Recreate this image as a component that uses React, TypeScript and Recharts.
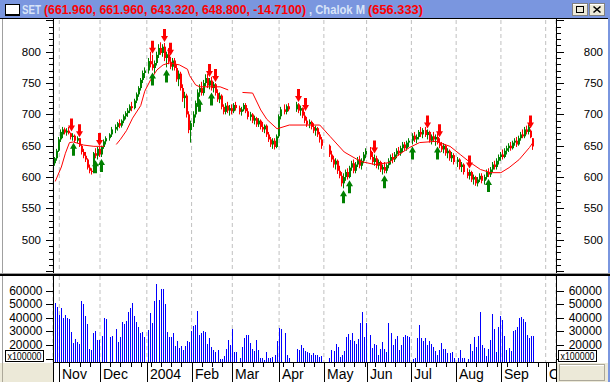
import React from "react";
import { ComposedChart, Bar, Line, Scatter, XAxis, YAxis, CartesianGrid } from "recharts";

type Candle4 = [number, number, number, number] | null; // open, high, low, close

// one slot per weekday, slot 1 = Thu 30 Oct 2003; null = market closed
const oct03: Candle4[] = [[622, 632, 618, 630], [630, 645, 626, 642]];
const nov03: Candle4[] = [
  [642, 664, 640, 660], [660, 676, 656, 672], [668, 680, 662, 676], [676, 679, 668, 671], [671, 678, 666, 674],
  [674, 680, 668, 670], [670, 671, 660, 664], [664, 670, 658, 666], [666, 668, 655, 658], [658, 665, 654, 662],
  [662, 662, 648, 650], [650, 652, 636, 640], [640, 645, 630, 634], [634, 640, 624, 628], [628, 630, 612, 615],
  [615, 620, 606, 610], [610, 614, 604, 608], [608, 640, 606, 638], [638, 646, 630, 634], [634, 648, 628, 645],
];
const dec03: Candle4[] = [
  [645, 648, 632, 636], [636, 650, 632, 648], [648, 660, 645, 657], [657, 665, 652, 662], null,
  [662, 670, 658, 668], [668, 680, 664, 676], null, [676, 684, 670, 680], [680, 688, 674, 686],
  [686, 692, 678, 682], [682, 692, 679, 690], [690, 700, 686, 697], [697, 705, 692, 702], [702, 710, 696, 706],
  [706, 716, 702, 713], [713, 720, 705, 710], [710, 725, 708, 722], [722, 735, 718, 732], [732, 745, 728, 742],
  [742, 758, 738, 755], [755, 770, 750, 766], [766, 775, 758, 770],
];
const jan04: Candle4[] = [
  null, [770, 790, 765, 785], [785, 800, 775, 780], [780, 795, 770, 774], [774, 786, 765, 782],
  [782, 800, 778, 795], [795, 812, 790, 806], [806, 815, 795, 798], [798, 812, 792, 808], [808, 814, 785, 790],
  [790, 800, 775, 796], [796, 806, 780, 784], [784, 792, 772, 776], [776, 790, 770, 786], [786, 790, 770, 774],
  [774, 780, 752, 756], [756, 770, 745, 765], [765, 768, 738, 742], [742, 748, 720, 726], [726, 736, 710, 730],
  [730, 733, 695, 700], [700, 705, 670, 675],
];
const feb04: Candle4[] = [
  [675, 690, 655, 686], [686, 705, 680, 700], [700, 722, 695, 718], [718, 740, 712, 735], [735, 748, 728, 742],
  [742, 752, 730, 734], [734, 755, 730, 750], [750, 764, 745, 758], [758, 765, 742, 746], [746, 758, 740, 754],
  [754, 760, 738, 742], [742, 752, 735, 748], [748, 750, 730, 734], [734, 740, 720, 724], [724, 735, 718, 730],
  [730, 732, 708, 712], [712, 716, 700, 704], [704, 718, 700, 714], [714, 720, 702, 706], [706, 715, 698, 710],
];
const mar04: Candle4[] = [
  [710, 716, 700, 705], [705, 718, 702, 715], [715, 720, 706, 710], null, [710, 714, 700, 704],
  [704, 712, 698, 708], [708, 718, 705, 715], [715, 718, 702, 705], [705, 710, 692, 696], [696, 704, 690, 700],
  [700, 702, 686, 690], [690, 698, 684, 694], [694, 696, 680, 684], [684, 694, 680, 690], [690, 692, 676, 680],
  [680, 688, 672, 676], [676, 684, 670, 682], [682, 684, 664, 668], [668, 672, 656, 660], [660, 664, 648, 652],
  [652, 662, 645, 658], [658, 662, 644, 648], [648, 668, 646, 665],
];
const apr04: Candle4[] = [
  [665, 700, 662, 697], [697, 712, 692, 708], null, [708, 716, 700, 704], [704, 716, 700, 713],
  [713, 718, 705, 708], null, null, null, [708, 720, 704, 716],
  [716, 718, 702, 706], [706, 714, 698, 710], [710, 711, 694, 698], [698, 704, 686, 690], [690, 696, 680, 684],
  [684, 692, 678, 688], [688, 690, 676, 680], [680, 686, 670, 674], [674, 682, 666, 678], [678, 680, 664, 668],
  [668, 672, 655, 660], [660, 664, 645, 650],
];
const may04: Candle4[] = [
  null, null, null, [650, 652, 632, 636], [636, 642, 624, 628],
  [628, 634, 615, 620], [620, 630, 612, 626], [626, 628, 605, 610], [610, 618, 598, 602], [602, 608, 585, 590],
  [590, 606, 582, 600], [600, 612, 594, 608], [608, 614, 596, 600], [600, 618, 598, 615], [615, 626, 610, 622],
  [622, 628, 606, 610], [610, 624, 606, 620], [620, 632, 616, 628], [628, 634, 614, 618], [618, 630, 612, 626],
  [626, 640, 622, 636],
];
const jun04: Candle4[] = [
  [636, 646, 630, 642], null, [642, 648, 628, 632], [632, 640, 620, 624], [624, 636, 618, 630],
  [630, 634, 614, 618], [618, 628, 612, 624], [624, 626, 608, 612], [612, 620, 604, 616], [616, 624, 606, 610],
  [610, 622, 606, 619], [619, 630, 614, 626], [626, 636, 620, 632], [632, 638, 622, 628], [628, 640, 624, 636],
  [636, 646, 630, 642], [642, 648, 634, 638], [638, 650, 634, 646], [646, 656, 640, 652], [652, 656, 642, 646],
  [646, 658, 642, 655], [655, 662, 648, 658],
];
const jul04: Candle4[] = [
  null, [658, 670, 652, 666], [666, 672, 656, 660], [660, 668, 654, 664], [664, 675, 660, 672],
  [672, 680, 664, 668], [668, 678, 662, 675], [675, 680, 664, 667], [667, 676, 660, 672], [672, 674, 655, 658],
  [658, 668, 652, 665], [665, 672, 656, 660], [660, 668, 650, 664], [664, 670, 652, 655], [655, 662, 646, 650],
  [650, 656, 640, 644], [644, 654, 638, 650], [650, 652, 634, 638], [638, 646, 630, 642], [642, 644, 626, 630],
  [630, 640, 624, 635], [635, 638, 620, 624],
];
const aug04: Candle4[] = [
  null, [624, 632, 616, 628], [628, 630, 612, 616], [616, 624, 608, 620], [620, 622, 604, 608],
  null, [608, 614, 598, 602], [602, 612, 596, 608], [608, 610, 592, 596], [596, 604, 588, 600],
  [600, 602, 586, 590], [590, 600, 585, 596], [596, 606, 592, 602], [602, 606, 590, 594], [594, 604, 588, 600],
  [600, 612, 596, 608], [608, 614, 600, 604], [604, 616, 600, 612], [612, 624, 608, 620], [620, 626, 612, 616],
  [616, 630, 612, 626], [626, 636, 620, 632],
];
const sep04: Candle4[] = [
  [632, 640, 626, 636], [636, 644, 628, 632], [632, 646, 630, 642], [642, 650, 636, 646], [646, 654, 640, 650],
  [650, 656, 642, 646], [646, 658, 644, 655], [655, 662, 650, 658], [658, 664, 648, 652], [652, 666, 650, 662],
  [662, 672, 658, 668], [668, 676, 662, 665], [665, 680, 662, 676], [676, 682, 668, 672], [672, 684, 668, 680],
  [674, 676, 662, 663.51], [661.96, 661.96, 643.32, 648.8],
];

// volume (x100000), same slots
const volOct03 = [51000, 47800];
const volNov03 = [42000, 47000, 39700, 42000, 39700, 39000, 29800, 21700, 24400, 22400, 20700, 52400, 50000, 41600, 35500, 17000, 16300, 28600, 30000, 24000];
const volDec03 = [24000, 26600, 39700, 39200, null, 26100, 26600, null, 31500, 22400, 26100, 36700, 35500, 37700, 44500, 47000, 50700, 41400, 37200, 33000, 28600, 29800, 26100];
const volJan04 = [null, 31000, 43800, 36400, 52400, 64900, 53200, 61200, 61200, 50200, 29800, 26100, 26100, 28600, 19300, 23200, 18000, 19300, 16300, 19300, 23000, 22000];
const volFeb04 = [30300, 34000, 34700, 45000, 27400, 28600, 30300, 29300, 20700, 24900, 18300, 16300, 15100, 16300, 9500, 9500, 11900, 17000, 23600, 20000];
const volMar04 = [31500, 15000, 15000, null, 10700, 18800, 24900, 27100, 27100, 21700, 16800, 15600, 23600, 16300, 10200, 10200, 9000, 14800, 10200, 10700, 11200, 12400, 23000];
const volApr04 = [32300, 31500, null, 29000, 12400, 10400, null, null, null, 16800, 16300, 20000, 17500, 15600, 14800, 14300, 12400, 14300, 12400, 13000, 11500, 12000];
const volMay04 = [null, null, null, 10400, 16300, 15600, 20700, 18800, 11200, 12400, 15600, 26100, 28100, 23600, 29000, 23200, 20700, 24400, 36400, 44500, 26100];
const volJun04 = [36400, null, 27400, 18000, 20700, 20000, 12400, 17000, 22400, 17000, 15100, 36400, 29000, 20000, 24400, 26600, 16300, 20000, 26100, 27400, 26600, 26100];
const volJul04 = [null, 9500, 10700, 24900, 34700, 24900, 23200, 24900, 20000, 23200, 20700, 18800, 15600, 12400, 16300, 21200, 17000, 17000, 14300, 14300, 14800, 10200];
const volAug04 = [null, 10700, 16300, 10400, 10200, null, 9500, 20700, 15600, 26100, 18300, 26600, 44500, 20000, 17500, 11900, 17000, 24000, 42500, 31700, 15100, 33000];
const volSep04 = [41600, 38400, 26600, 16300, 17500, 15600, 30300, 31000, 33400, 39700, 40400, 39000, 37200, 27100, 24900, 26600, 26600];

// "Chalok M" line: [slot, value], null = break
const chalokM: [number, number | null][] = [
  [1, 593], [4, 616], [6, 638], [8, 655], [10, 656], [15, 651], [20, 649], [25, 649], [26, null],
  [31, 652], [33, 660], [36, 674], [39, 694], [43, 714], [45, 737], [48, 756], [51, 771], [54, 779],
  [57, 782], [62, 779], [66, 772], [67, 762], [70, 747], [72, 744], [82, 744], [86, 739], [88, null],
  [93, 735], [98, 734], [102, 707], [105, 692], [110, 677], [116, 683], [131, 683], [136, 665],
  [143, 640], [151, 625], [158, 620], [165, 623], [170, 636], [175, 647], [180, 655], [188, 657],
  [195, 649], [200, 636], [205, 623], [210, 612], [215, 607], [220, 607], [224, 615], [229, 628],
  [234, 647], [236, 656.333],
];

const sellSlots = [9, 13, 23, 49, 55, 58, 77, 80, 121, 124, 158, 184, 190, 205, 235];
const buySlots = [10, 21, 24, 49, 56, 72, 78, 143, 146, 163, 177, 189, 214];

const monthSlots = [3, 23, 46, 68, 88, 111, 133, 154, 176, 198, 220, 242];
const monthLabels = ["Nov", "Dec", "2004", "Feb", "Mar", "Apr", "May", "Jun", "Jul", "Aug", "Sep", "Oct"];
const priceLabels = [500, 550, 600, 650, 700, 750, 800];
const volLabels = [20000, 30000, 40000, 50000, 60000];

const GREEN = "#008000";
const RED = "#FF0000";
const BLUE = "#0000FF";
const GRID = "#C0C0C0";
const TITLE_BG = "#7A96DF";
const FACE = "#ECE9D8";
const FONT = "'Liberation Sans', Arial, sans-serif";

const X_DOMAIN: [number, number] = [-0.1, 247.07];
const P_DOMAIN: [number, number] = [448.5, 850.6];
const V_DOMAIN: [number, number] = [7500, 70830];

const candles = [...oct03, ...nov03, ...dec03, ...jan04, ...feb04, ...mar04, ...apr04, ...may04, ...jun04, ...jul04, ...aug04, ...sep04];
const volumes = [...volOct03, ...volNov03, ...volDec03, ...volJan04, ...volFeb04, ...volMar04, ...volApr04, ...volMay04, ...volJun04, ...volJul04, ...volAug04, ...volSep04];

const rows: any[] = [];
candles.forEach((b, i) => {
  if (!b) return;
  const [o, h, l, c] = b;
  rows.push({ s: i + 1, o, h, l, c, range: [l, h], vol: volumes[i] });
});
const bySlot: Record<number, any> = {};
rows.forEach((r) => (bySlot[r.s] = r));

const sellData = sellSlots.map((s) => ({ s, v: bySlot[s].h }));
const buyData = buySlots.map((s) => ({ s, v: bySlot[s].l }));
const maData = chalokM.map(([s, v]) => ({ s, v }));

const priceTicks: number[] = [];
for (let v = 450; v <= 850; v += 10) priceTicks.push(v);
const volTicks = [10000, ...volLabels];
const mondays: number[] = [];
for (let s = 3; s <= 243; s += 5) mondays.push(s);
const dateTicks = Array.from(new Set([...mondays, ...monthSlots])).sort((a, b) => a - b);

const CandleShape = (p: any) => {
  const { x, y, width, height, payload } = p;
  if (!payload || y == null) return <g />;
  const { o, h, l, c } = payload;
  const cx = Math.round(x + width / 2);
  const top = Math.min(y, y + height);
  const hh = Math.abs(height);
  const k = h > l ? hh / (h - l) : 0;
  const yo = top + (h - o) * k;
  const yc = top + (h - c) * k;
  const col = c >= o ? GREEN : RED;
  return (
    <g>
      <rect x={cx - 1} y={top} width={1} height={Math.max(1, hh)} fill={col} />
      <rect x={cx - 1} y={Math.min(yo, yc)} width={2} height={Math.max(1, Math.abs(yc - yo))} fill={col} />
    </g>
  );
};

const VolShape = (p: any) => {
  const { x, y, width, height } = p;
  if (y == null || !height) return <g />;
  const cx = Math.round(x + width / 2);
  return (
    <rect x={cx - 1} y={Math.round(Math.min(y, y + height))} width={1} height={Math.round(Math.abs(height))}
      fill={BLUE} shapeRendering="crispEdges" />
  );
};

const SellArrow = (p: any) => {
  const cx = Math.round(p.cx) - 0.5;
  const t = p.cy - 1;
  return <path d={`M${cx - 1.5},${t - 13}H${cx + 1.5}V${t - 6}H${cx + 3.5}L${cx},${t}L${cx - 3.5},${t - 6}H${cx - 1.5}Z`} fill={RED} />;
};

const BuyArrow = (p: any) => {
  const cx = Math.round(p.cx) - 0.5;
  const t = p.cy + 2;
  return <path d={`M${cx - 1.5},${t + 13}H${cx + 1.5}V${t + 6}H${cx + 3.5}L${cx},${t}L${cx - 3.5},${t + 6}H${cx - 1.5}Z`} fill={GREEN} />;
};

const priceTick = (side: "l" | "r") => (p: any) => {
  const v = p.payload.value;
  const y = Math.round(p.y) + 0.5;
  const major = v % 50 === 0;
  const len = major ? 7 : 4;
  const ax = side === "l" ? 53 : 557;
  const x2 = side === "l" ? ax - len : ax + len;
  return (
    <g>
      <line x1={ax} x2={x2} y1={y} y2={y} stroke="#000" />
      {priceLabels.includes(v) && (
        <text x={side === "l" ? 41 : 603} y={p.y + 4} textAnchor="end" fontSize={11.5} fontFamily={FONT} fill="#000">
          {v}
        </text>
      )}
    </g>
  );
};

const volTick = (side: "l" | "r") => (p: any) => {
  const v = p.payload.value;
  const y = Math.round(p.y) + 0.5;
  const ax = side === "l" ? 53 : 557;
  const x2 = side === "l" ? ax - 7 : ax + 7;
  if (v === 10000) {
    const bx = side === "l" ? 5.5 : 558.5;
    return (
      <g>
        <line x1={ax} x2={x2} y1={y} y2={y} stroke="#000" />
        <rect x={bx} y={76.5} width={38} height={11} fill="#fff" stroke="#000" />
        <text x={bx + 2} y={85.5} fontSize={10.5} fontFamily={FONT} textLength={34} lengthAdjust="spacingAndGlyphs" fill="#000">
          x100000
        </text>
      </g>
    );
  }
  return (
    <g>
      <line x1={ax} x2={x2} y1={y} y2={y} stroke="#000" />
      <text x={side === "l" ? 42.5 : 602} y={p.y + 4} textAnchor="end" fontSize={12} fontFamily={FONT} fill="#000">
        {v}
      </text>
    </g>
  );
};

const DateTick = (p: any) => {
  const s = p.payload.value;
  const x = Math.round(p.x) + 0.5;
  const mi = monthSlots.indexOf(s);
  if (mi < 0) return <line x1={x} x2={x} y1={88} y2={93} stroke="#000" />;
  return (
    <g>
      <line x1={x} x2={x} y1={88} y2={108} stroke="#000" />
      <text x={x + 2.5} y={105} fontSize={14} fontFamily="'Liberation Sans Narrow', 'Arial Narrow', 'Liberation Sans', sans-serif" fill="#000">
        {monthLabels[mi]}
      </text>
    </g>
  );
};

function Frame() {
  return (
    <svg width={610} height={382} style={{ position: "absolute", left: 0, top: 0, pointerEvents: "none" }}>
      {/* title bar */}
      <rect x={0} y={0} width={610} height={18} fill={TITLE_BG} />
      <rect x={0} y={18} width={610} height={1} fill="#000" />
      <rect x={5.5} y={4.5} width={14} height={10} fill="#fff" stroke="#000" />
      <rect x={5} y={14} width={15} height={2} fill="#000" />
      <g fontFamily={FONT} fontWeight="bold" fontSize={13}>
        <text x={22} y={14} fill="#D8E4F8" textLength={19} lengthAdjust="spacingAndGlyphs">SET</text>
        <text x={44} y={14} fill={RED} textLength={262} lengthAdjust="spacingAndGlyphs">(661.960, 661.960, 643.320, 648.800, -14.7100)</text>
        <text x={309} y={14} fill="#D8E4F8" textLength={56} lengthAdjust="spacingAndGlyphs">, Chalok M</text>
        <text x={368} y={14} fill={RED} textLength={55} lengthAdjust="spacingAndGlyphs">(656.333)</text>
      </g>
      {[572, 589].map((bx, i) => (
        <g key={bx}>
          <rect x={bx + 0.5} y={3.5} width={15} height={12} fill={FACE} stroke="#808080" />
          <line x1={bx + 1} x2={bx + 15} y1={4.5} y2={4.5} stroke="#fff" />
          {i === 0 ? (
            <rect x={bx + 4.5} y={6.5} width={7} height={6} fill="none" stroke="#000" strokeWidth={1} />
          ) : (
            <path d={`M${bx + 4.5},${6.5}L${bx + 11.5},${12.5}M${bx + 11.5},${6.5}L${bx + 4.5},${12.5}`} stroke="#000" strokeWidth={1.6} />
          )}
        </g>
      ))}
      {/* window borders */}
      <rect x={2} y={19} width={1} height={344} fill="#A0A0A0" />
      <rect x={608} y={0} width={2} height={382} fill={TITLE_BG} />
      {/* panel separator */}
      <rect x={0} y={273} width={610} height={1} fill="#A0A0A0" />
      <rect x={0} y={274} width={610} height={2} fill="#000" />
      {/* axis lines */}
      <line x1={53.5} x2={53.5} y1={19} y2={273} stroke="#000" />
      <line x1={556.5} x2={556.5} y1={19} y2={273} stroke="#000" />
      <line x1={53.5} x2={53.5} y1={276} y2={382} stroke="#000" />
      <line x1={556.5} x2={556.5} y1={276} y2={382} stroke="#000" />
      <line x1={53} x2={557} y1={362.5} y2={362.5} stroke="#000" />
      {/* bottom corner boxes */}
      <rect x={0} y={363} width={53} height={19} fill={FACE} />
      <rect x={2} y={363} width={1} height={19} fill="#ACA899" />
      <rect x={557} y={363} width={51} height={19} fill={FACE} />
      <rect x={559.5} y={364.5} width={45} height={16} fill={FACE} stroke="#ACA899" />
      <line x1={560} x2={604} y1={365.5} y2={365.5} stroke="#fff" />
    </svg>
  );
}

export default function App() {
  return (
    <div style={{ position: "absolute", left: 0, top: 0, width: 610, height: 382, background: "#fff", overflow: "hidden" }}>
      <div style={{ position: "absolute", left: 0, top: 0 }}>
        <ComposedChart width={610} height={274} data={rows} margin={{ top: 20, right: 0, bottom: 2, left: 0 }}>
          <XAxis type="number" dataKey="s" domain={X_DOMAIN} ticks={monthSlots} allowDataOverflow hide />
          <YAxis yAxisId="pl" orientation="left" width={53} domain={P_DOMAIN} ticks={priceTicks} interval={0}
            allowDataOverflow axisLine={false} tickLine={false} tickSize={0} tick={priceTick("l")} />
          <YAxis yAxisId="pr" orientation="right" width={54} domain={P_DOMAIN} ticks={priceTicks} interval={0}
            allowDataOverflow axisLine={false} tickLine={false} tickSize={0} tick={priceTick("r")} />
          <CartesianGrid yAxisId="pl" horizontal={false} stroke={GRID} strokeDasharray="4 3" />
          <Bar yAxisId="pl" dataKey="range" barSize={3} shape={CandleShape} isAnimationActive={false} />
          <Line yAxisId="pl" data={maData} dataKey="v" type="linear" stroke={RED} strokeWidth={1} dot={false}
            connectNulls={false} isAnimationActive={false} />
          <Scatter yAxisId="pl" data={sellData} dataKey="v" shape={SellArrow} isAnimationActive={false} />
          <Scatter yAxisId="pl" data={buyData} dataKey="v" shape={BuyArrow} isAnimationActive={false} />
        </ComposedChart>
      </div>
      <div style={{ position: "absolute", left: 0, top: 274 }}>
        <ComposedChart width={610} height={108} data={rows} margin={{ top: 2, right: 0, bottom: 0, left: 0 }}>
          <XAxis type="number" dataKey="s" domain={X_DOMAIN} ticks={dateTicks} interval={0} allowDataOverflow
            height={20} axisLine={false} tickLine={false} tickSize={0} tick={DateTick} />
          <XAxis xAxisId="g" type="number" dataKey="s" domain={X_DOMAIN} ticks={monthSlots} allowDataOverflow hide />
          <YAxis yAxisId="vl" orientation="left" width={53} domain={V_DOMAIN} ticks={volTicks} interval={0}
            allowDataOverflow axisLine={false} tickLine={false} tickSize={0} tick={volTick("l")} />
          <YAxis yAxisId="vr" orientation="right" width={54} domain={V_DOMAIN} ticks={volTicks} interval={0}
            allowDataOverflow axisLine={false} tickLine={false} tickSize={0} tick={volTick("r")} />
          <CartesianGrid xAxisId="g" yAxisId="vl" horizontal={false} stroke={GRID} strokeDasharray="4 3" />
          <Bar yAxisId="vl" dataKey="vol" barSize={1} shape={VolShape} isAnimationActive={false} />
        </ComposedChart>
      </div>
      <Frame />
    </div>
  );
}
